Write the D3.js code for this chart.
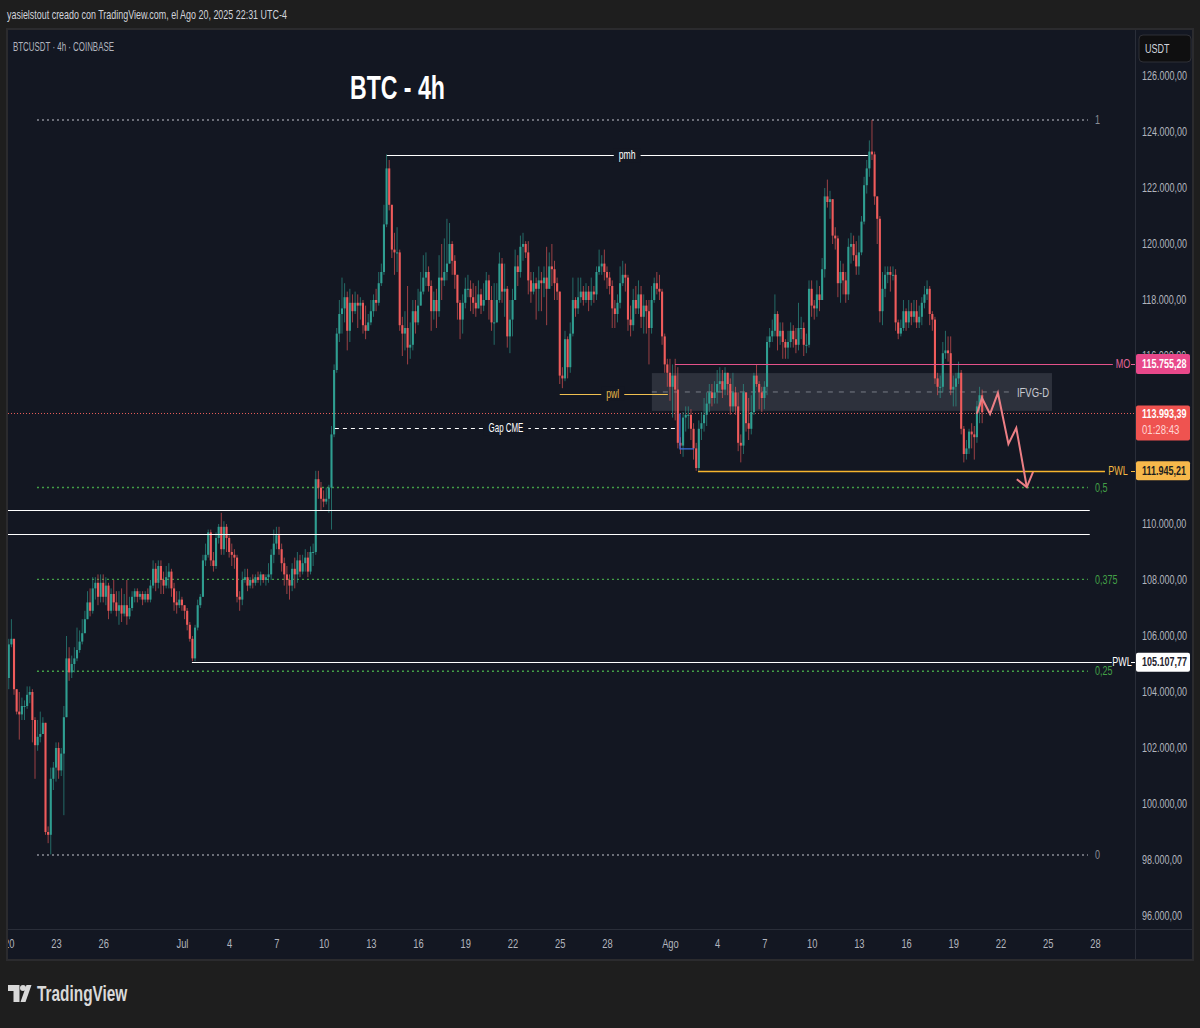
<!DOCTYPE html>
<html><head><meta charset="utf-8"><title>BTC - 4h</title>
<script src="https://cdn.jsdelivr.net/npm/d3@7"></script>
<style>
html,body{margin:0;padding:0;background:#1e1e1e;overflow:hidden}
text{font-family:"Liberation Sans",sans-serif}
</style></head><body><svg id="c" width="1200" height="1028"></svg>
<script>
// ---- Data (prices in thousands of USDT, four-hour candles) ----
const startDate = Date.UTC(2025,5,20);
const firstOpen = 104.5;
const closes = [
105.7,105.9,104.1,103.3,103.2,103.5, 103.5,103.9,104.0,103.0,102.1,102.4, 102.5,102.9,99.0,98.9,100.9,101.3,
102.0,101.2,101.8,103.1,105.2,104.7, 105.0,105.2,105.5,105.8,106.1,106.6, 107.2,106.9,107.7,107.9,107.4,107.9,
107.4,107.8,106.9,107.5,107.2,106.9, 107.1,106.8,107.1,106.7,107.0,107.4, 107.6,107.4,107.5,107.3,107.5,107.3,
107.8,108.4,107.9,108.5,108.0,107.8,108.1, 108.3,107.7,107.2,107.1,107.3,107.1, 106.9,106.4,105.9,105.2,106.3,107.1,
107.4,108.7,108.9,109.7,108.7,108.5, 109.5,109.9,109.1,109.9,109.5,109.0, 108.9,108.8,107.4,107.3,108.0,108.1,
107.8,108.0,107.9,108.1,108.0,108.2, 108.0,108.1,108.2,108.9,109.3,109.6, 109.1,108.6,108.2,108.0,107.8,108.4,
108.2,108.7,108.3,108.6,108.8,108.3, 109.0,109.0,111.6,111.3,110.9,110.8, 110.9,111.3,113.2,115.5,116.8,117.5,
117.7,118.1,116.9,117.9,117.6,117.9, 117.8,117.9,117.1,116.9,117.2,117.6, 118.0,117.9,118.6,119.0,120.7,122.7,
121.4,119.8,119.7,119.7,117.1,116.8, 117.0,116.3,116.4,117.6,117.2,117.8, 118.3,118.8,119.0,118.5,117.6,118.0,
117.6,118.8,118.7,119.0,119.3,120.0, 119.4,118.9,117.9,117.3,117.9,118.4, 118.4,118.1,117.9,117.7,118.2,117.8,
118.0,118.7,118.0,117.2,117.2,118.0, 119.3,118.3,118.4,116.7,117.3,118.0, 119.2,119.0,119.9,120.0,119.7,118.7,
118.3,118.6,118.4,118.7,118.6,118.8, 118.4,119.2,119.1,118.6,118.3,115.3, 115.2,116.6,115.6,116.8,118.0,117.7,
118.1,118.3,118.0,118.3,118.0,118.3, 118.2,119.0,119.2,119.3,119.0,118.8, 118.5,117.7,117.5,117.9,118.6,118.9,
118.8,117.3,117.1,118.0,117.7,118.2, 117.4,117.8,117.6,117.0,118.0,118.6, 118.4,118.3,116.7,115.7,115.4,114.9,
115.3,114.8,112.9,112.8,113.8,113.9, 113.9,113.4,112.7,112.0,113.4,113.6, 113.9,114.3,114.7,114.5,114.7,115.0,
115.1,114.8,115.4,115.0,114.2,114.7, 114.2,112.9,112.8,114.7,113.6,113.4, 114.0,115.3,115.0,114.7,114.5,114.9,
116.5,116.7,116.9,117.5,116.7,116.9, 116.5,116.3,116.5,116.9,116.6,116.4, 117.0,117.0,116.4,116.4,118.4,117.8,
117.7,118.2,118.0,119.1,121.7,121.5, 121.6,120.3,120.2,118.6,119.0,118.7, 118.2,119.9,120.0,119.6,119.2,119.7,
120.8,122.1,122.7,123.3,123.2,121.7, 120.9,117.6,118.4,118.9,119.0,118.9, 118.9,117.2,116.8,117.0,117.6,117.2,
117.6,117.4,117.6,117.2,117.4,117.9, 118.2,118.4,117.5,117.3,115.2,114.9, 114.9,116.1,116.2,116.1,114.8,114.9,
115.2,115.4,113.4,112.5,112.7,113.3, 113.2,113.1,114.2,114.6,113.99];
const highs = [
105.9,106.6,105.9,104.0,104.0,103.8, 103.7,104.2,104.2,104.1,103.1,103.0, 103.3,103.1,102.9,99.2,101.3,101.5,
102.2,102.2,102.0,103.5,106.0,105.6, 105.3,105.6,106.3,106.2,106.6,106.9, 107.6,107.7,108.1,108.1,108.2,108.2,
108.2,108.1,107.9,107.7,108.0,107.6, 107.6,107.7,107.5,108.0,107.4,107.6, 107.7,107.7,107.6,107.6,107.6,107.7,
108.0,108.7,108.6,108.7,108.7,108.3,108.5, 108.6,108.4,107.9,107.6,107.6,107.4, 107.1,107.0,106.5,106.0,106.4,107.3,
107.5,108.9,109.3,109.8,109.8,109.0, 109.7,110.0,110.4,110.1,110.0,109.6, 109.3,109.1,108.9,107.6,108.3,108.4,
108.4,108.1,108.2,108.2,108.3,108.3, 108.2,108.2,108.6,109.1,109.8,109.9, 109.9,109.3,108.8,108.5,108.2,108.6,
108.8,109.0,108.9,108.9,109.1,109.0, 109.2,109.3,111.9,111.9,111.5,111.2, 111.3,111.4,113.5,115.7,117.0,118.0,
118.8,118.6,118.3,118.4,118.2,118.3, 118.2,118.1,118.0,117.8,117.5,118.0, 118.2,118.4,119.0,119.3,121.4,123.2,
123.0,121.0,120.4,120.6,119.8,117.4, 117.6,118.5,117.2,118.0,118.0,118.4, 119.0,119.6,119.7,119.2,118.7,118.3,
118.4,119.6,120.0,120.2,120.9,120.75, 120.1,119.6,118.9,118.0,118.2,118.8, 118.9,118.7,118.6,118.5,118.7,118.4,
118.6,119.0,118.9,118.5,118.6,118.6, 119.7,119.5,119.3,118.5,118.0,118.4, 119.8,119.6,120.3,120.4,120.1,120.1,
119.0,119.0,118.8,119.2,119.0,119.2, 119.9,119.7,120.0,119.4,118.8,118.3, 115.6,116.9,116.7,117.2,118.8,118.1,
118.8,118.8,118.5,118.6,118.5,118.8, 118.5,119.2,119.8,119.6,119.8,119.2, 119.0,118.7,118.0,118.2,119.2,119.4,
119.3,118.9,117.8,118.4,118.5,118.7, 118.5,118.2,118.0,118.0,118.5,118.8, 119.0,118.9,118.4,116.8,115.9,115.9,
115.7,115.9,115.6,113.1,114.0,114.2, 114.2,114.1,113.6,112.9,113.7,114.0, 114.5,114.7,115.0,115.0,115.1,115.5,
115.6,115.5,115.6,115.4,115.2,115.4, 114.9,114.7,113.2,115.0,114.6,114.5, 114.6,115.4,115.7,115.1,114.9,115.1,
116.7,117.0,117.3,118.2,117.6,117.2, 117.2,116.6,116.9,117.2,117.1,117.0, 117.9,117.4,117.2,116.8,118.7,118.7,
118.0,118.7,118.5,119.5,122.0,122.3, 121.9,121.6,120.6,120.3,119.4,119.3, 119.0,120.2,120.4,120.3,120.1,120.3,
121.0,122.4,123.0,123.7,124.43,123.3, 121.7,121.0,119.0,119.2,119.2,119.2, 119.2,119.1,117.3,117.3,118.0,117.7,
118.0,117.9,118.0,118.0,117.8,118.1, 118.5,118.7,118.5,117.6,117.4,115.4, 115.3,116.5,116.9,116.7,116.7,115.3,
115.4,115.8,115.5,113.5,113.0,113.4, 113.6,113.5,114.4,114.9,114.8];
const lows = [
104.1,105.6,103.9,103.2,102.3,103.0, 103.0,103.4,103.6,102.2,100.9,101.9, 102.2,102.5,98.9,98.6,98.2,100.5,
100.8,100.9,101.0,99.6,103.1,104.4, 104.5,104.7,105.1,105.4,105.7,106.1, 106.6,106.7,106.8,107.3,107.1,107.2,
107.2,107.1,106.6,106.8,106.9,106.7, 106.4,106.5,106.7,106.4,106.6,106.9, 107.2,107.2,107.3,107.1,107.2,107.2,
107.2,107.7,107.6,107.7,107.5,107.5,107.7, 107.7,107.4,106.9,106.8,107.0,106.9, 106.6,106.2,105.8,105.1,105.1,106.2,
107.0,107.4,108.5,108.8,108.5,108.3, 108.4,109.3,108.9,108.9,109.0,108.8, 108.5,108.4,107.2,106.9,107.1,107.9,
107.6,107.7,107.7,107.8,107.9,107.8, 107.9,107.8,107.9,108.0,108.6,109.1, 108.9,108.3,107.8,107.5,107.3,107.6,
107.7,107.9,108.1,108.2,108.3,108.1, 108.2,108.5,108.9,110.9,110.5,110.6, 110.7,110.4,109.8,113.1,115.4,116.5,
116.8,117.2,116.2,116.5,117.2,117.5, 117.0,117.3,116.8,116.6,116.9,117.1, 117.4,117.6,117.8,118.5,118.9,120.6,
121.2,119.5,118.9,119.0,116.9,116.0, 116.2,115.7,115.9,116.2,116.8,117.1, 117.9,118.2,118.5,118.3,116.9,117.3,
117.0,117.4,118.0,118.5,118.7,119.3, 118.9,118.4,117.3,116.6,116.8,117.7, 118.1,117.6,117.5,117.4,117.8,117.5,
117.6,118.0,117.3,116.9,116.4,117.2, 117.9,117.9,117.4,116.3,116.1,116.7, 118.0,118.5,118.8,119.4,119.5,118.2,
117.9,118.2,117.3,117.6,117.6,118.1, 117.1,118.6,118.5,118.0,118.0,115.0, 114.85,115.1,115.2,115.4,116.7,117.4,
117.5,117.9,117.8,117.9,117.6,117.8, 117.9,118.0,118.9,118.9,118.7,118.4, 118.2,117.0,117.0,117.2,117.7,118.5,
118.3,116.9,116.7,116.9,117.5,117.5, 117.0,116.8,116.8,115.7,116.8,117.9, 118.2,118.0,116.4,115.4,114.9,114.4,
113.8,113.7,112.7,112.5,112.4,113.3, 113.4,113.0,112.3,111.9,111.9,113.0, 113.3,113.5,114.0,114.2,114.3,114.3,
114.7,114.5,114.6,114.6,113.9,114.0, 113.9,112.6,112.2,112.5,113.3,113.0, 113.2,113.9,114.9,114.1,114.0,114.1,
114.6,116.3,116.5,116.7,116.2,116.4, 115.9,115.9,115.9,116.3,116.3,116.1, 116.2,116.6,116.0,116.1,116.3,117.4,
117.3,117.4,117.6,118.0,118.8,121.3, 120.9,120.0,119.8,118.1,117.9,118.2, 117.9,118.0,119.3,119.4,118.9,118.9,
119.6,120.7,121.8,122.4,123.0,121.4, 120.0,117.2,117.1,118.1,118.6,118.3, 118.7,116.9,116.6,116.7,116.9,116.9,
117.0,117.1,117.2,117.0,117.0,117.1, 117.7,118.0,117.1,116.9,115.0,114.6, 114.5,114.7,115.9,115.8,114.6,114.2,
114.2,115.0,113.2,112.2,112.3,112.5, 112.7,112.3,112.9,113.6,113.6];

// 114 and 112 lie fully under the price tags in the reference
const priceTicks = [126,124,122,120,118,116,110,108,106,104,102,100,98,96];
const dayTicks = ["2025-06-20","2025-06-23","2025-06-26","2025-07-01","2025-07-04","2025-07-07","2025-07-10","2025-07-13","2025-07-16","2025-07-19","2025-07-22","2025-07-25","2025-07-28","2025-08-01","2025-08-04","2025-08-07","2025-08-10","2025-08-13","2025-08-16","2025-08-19","2025-08-22","2025-08-25","2025-08-28"];
const monthNames = {"2025-07-01":"Jul","2025-08-01":"Ago"};

// Fibonacci levels
const fibLevels = [0,0.25,0.375,0.5,1];
const fibLabels = ["0","0,25","0,375","0,5","1"];
const fibLow = 98.18, fibHigh = 124.43;
const fibFrom = 10.75, fibTo = 411.3;

// Horizontal annotations: candle index from/to, price
const whiteLevels = [110.5,109.64];
const whiteFrom = -0.3, whiteTo = 412;
const mo = 115.75528, pwlBig = 111.94521, pnl = 105.10777, last = 113.99339;
const pmh = 123.18, pwlSmall = 114.66, gapCme = 113.43;
const ifvgTop = 115.39, ifvgBottom = 114.04, ifvgFrom = 245.1, ifvgTo = 397.6;
const blueFrom = 255.8, blueTo = 261.1, blueTop = 113.95, blueBottom = 112.68;
const arrowIdx = [369,370.9,374,377,381,384,388];
const arrowPrice = [113.93,114.5,113.93,114.68,112.86,113.43,111.32];
const headIdx = [384.2,388,390.4];
const headPrice = [111.6,111.32,111.86];

// ---- Scales ----
const H4 = 4*3600*1000;
const tAt = i => new Date(startDate + i*H4);
const x = d3.scaleUtc().domain([new Date(Date.UTC(2025,5,23)), new Date(Date.UTC(2025,7,28))]).range([56,1095]);
const y = d3.scaleLinear().domain([96,126]).range([916,76]);
const X = i => x(tAt(i));
const loc = d3.formatLocale({decimal:",",thousands:".",grouping:[3],currency:["",""]});
const fmt = v => loc.format(",.2f")(v*1000);
// the tagged price lines sit about one pixel below the axis grid in the source picture
const TAGSHIFT = 1.2;
const Yt = p => y(p)+TAGSHIFT;
const crisp = v => Math.round(v)+.5;
// the reference text is a condensed face: squeeze real text horizontally about its x anchor
function cond(sel,f){
  sel.each(function(){
    const ax=+this.getAttribute("x")||0;
    this.setAttribute("transform",`translate(${ax} 0) scale(${f} 1) translate(${-ax} 0)`);
  });
  return sel;
}

const svg = d3.select("#c");
const PANE = {l:8,r:1135,t:30,b:929,axisR:1192,bottom:959};
const COL = {bg:"#1e1e1e",pane:"#131722",border:"#2b2b2e",grid:"#2a2e39",up:"#2f9e91",down:"#ef5b5b",txt:"#b2b5be"};

// ---- Frame ----
svg.append("rect").attr("width",1200).attr("height",1028).attr("fill",COL.bg);
svg.append("rect").attr("x",PANE.l-1).attr("y",PANE.t-1).attr("width",PANE.axisR-PANE.l+2).attr("height",PANE.bottom-PANE.t+2)
  .attr("fill",COL.pane).attr("stroke",COL.border).attr("stroke-width",2);
svg.append("line").attr("x1",PANE.r+.5).attr("x2",PANE.r+.5).attr("y1",PANE.t).attr("y2",PANE.bottom).attr("stroke",COL.grid);
svg.append("line").attr("x1",PANE.l).attr("x2",PANE.axisR).attr("y1",PANE.b+.5).attr("y2",PANE.b+.5).attr("stroke",COL.grid);

svg.append("defs").append("clipPath").attr("id","pane").append("rect")
  .attr("x",PANE.l).attr("y",PANE.t).attr("width",PANE.r-PANE.l).attr("height",PANE.b-PANE.t);
svg.append("defs").append("clipPath").attr("id","xa").append("rect")
  .attr("x",PANE.l).attr("y",PANE.b).attr("width",PANE.r-PANE.l).attr("height",PANE.bottom-PANE.b);

// ---- Axes ----
const yAxis = d3.axisRight(y).tickValues(priceTicks).tickFormat(fmt).tickSize(0).tickPadding(0);
const ya = svg.append("g").attr("transform",`translate(${PANE.r+7},0)`).call(yAxis);
ya.select(".domain").remove();
cond(ya.selectAll("text").attr("fill",COL.txt).attr("font-size",12).attr("font-family","Liberation Sans"),.75);

const xAxis = d3.axisBottom(x).tickValues(dayTicks.map(d=>new Date(d+"T00:00:00Z")))
  .tickFormat(d=>{const k=d.toISOString().slice(0,10);return monthNames[k]||d.getUTCDate();}).tickSize(0).tickPadding(0);
const xa = svg.append("g").attr("clip-path","url(#xa)").append("g").attr("transform",`translate(0,${PANE.b+10})`).call(xAxis);
xa.select(".domain").remove();
cond(xa.selectAll("text").attr("fill",COL.txt).attr("font-size",12).attr("font-family","Liberation Sans"),.78);

// ---- Chart layer ----
const g = svg.append("g").attr("clip-path","url(#pane)");

// IFVG zone
g.append("rect").attr("x",X(ifvgFrom)).attr("width",X(ifvgTo)-X(ifvgFrom)).attr("y",y(ifvgTop)).attr("height",y(ifvgBottom)-y(ifvgTop))
  .attr("fill","#787b86").attr("fill-opacity",.26);
g.append("line").attr("x1",X(ifvgFrom)).attr("x2",X(ifvgTo)-38).attr("y1",y((ifvgTop+ifvgBottom)/2)).attr("y2",y((ifvgTop+ifvgBottom)/2))
  .attr("stroke","#787b86").attr("stroke-dasharray","5 6");

// Current price line
g.append("line").attr("x1",PANE.l).attr("x2",PANE.r).attr("y1",crisp(Yt(last))).attr("y2",crisp(Yt(last)))
  .attr("stroke","#f0605c").attr("stroke-opacity",.95).attr("stroke-dasharray","1 2");

// Fib levels
g.selectAll(".fib").data(fibLevels).join("line").attr("x1",X(fibFrom)).attr("x2",X(fibTo))
  .attr("y1",d=>y(fibLow+(fibHigh-fibLow)*d)).attr("y2",d=>y(fibLow+(fibHigh-fibLow)*d))
  .attr("stroke",d=>(d===0||d===1)?"#8a8d96":"#43a047").attr("stroke-width",1.4).attr("stroke-dasharray","2 3");
cond(g.selectAll(".fibl").data(fibLevels).join("text").attr("x",X(fibTo)+7)
  .attr("y",d=>y(fibLow+(fibHigh-fibLow)*d)).attr("dy","0.35em")
  .attr("fill",d=>(d===0||d===1)?"#8a8d96":"#43a047").attr("font-size",12)
  .text((d,i)=>fibLabels[i]),.75);

// Candles
const candles = closes.map((c,i)=>({i,c,o:i?closes[i-1]:firstOpen,h:highs[i],l:lows[i]}));
const cg = g.append("g");
cg.selectAll(".w").data(candles).join("line").attr("x1",d=>X(d.i)).attr("x2",d=>X(d.i))
  .attr("y1",d=>y(Math.max(d.h,d.o,d.c))).attr("y2",d=>y(Math.min(d.l,d.o,d.c)))
  .attr("stroke",d=>d.c>=d.o?COL.up:COL.down).attr("stroke-opacity",.62).attr("stroke-width",1);
cg.selectAll(".b").data(candles).join("rect").attr("x",d=>X(d.i)-1.05).attr("width",2.1)
  .attr("y",d=>y(Math.max(d.o,d.c))).attr("height",d=>Math.max(1,Math.abs(y(d.o)-y(d.c))))
  .attr("fill",d=>d.c>=d.o?COL.up:COL.down);

// Horizontal lines
function hline(a,b,py,col,w,dash){
  const yy=crisp(py);
  const l=g.append("line").attr("x1",X(a)).attr("x2",X(b)).attr("y1",yy).attr("y2",yy).attr("stroke",col).attr("stroke-width",w||1);
  if(dash) l.attr("stroke-dasharray",dash);
}
function midLabel(cx,py,t,col,f){
  const tx=g.append("text").attr("x",cx).attr("y",py).attr("dy","0.35em").attr("text-anchor","middle").attr("fill",col).attr("font-size",12).text(t);
  const bb=tx.node().getBBox();
  cond(tx,f);
  const w=bb.width*f;
  g.append("rect").attr("x",cx-w/2-5).attr("y",bb.y).attr("width",w+10).attr("height",bb.height).attr("fill",COL.pane);
  tx.raise();
}
whiteLevels.forEach(p=>hline(whiteFrom,whiteTo,y(p),"#ffffff",1));
hline(144.1,327.4,y(pmh),"#ffffff",1);      midLabel(X(235.7),y(pmh),"pmh","#ffffff",.72);
hline(210,251.2,y(pwlSmall),"#f0c050",1.2);   midLabel(X(230.2),y(pwlSmall),"pwl","#e9b949",.72);
hline(124.3,255,y(gapCme),"#ffffff",1,"4 4"); midLabel(X(189.5),y(gapCme),"Gap CME","#ffffff",.66);
hline(253.9,420.8,Yt(mo),"#e4528a",1.2);
hline(262.7,417.8,Yt(pwlBig),"#f7b52e",1.3);
hline(69.8,420.4,Yt(pnl),"#ffffff",1);

// Blue bracket
g.append("path").attr("d",d3.line()([[X(blueFrom),y(blueTop)],[X(blueFrom),y(blueBottom)],[X(blueTo),y(blueBottom)]]))
  .attr("fill","none").attr("stroke","#3d6fe0").attr("stroke-width",1.2);

// Projection arrow
const ln=d3.line();
g.append("path").attr("d",ln(arrowIdx.map((a,i)=>[X(a),y(arrowPrice[i])]))).attr("fill","none").attr("stroke","#ec7f85").attr("stroke-width",2);
g.append("path").attr("d",ln(headIdx.map((a,i)=>[X(a),y(headPrice[i])]))).attr("fill","none").attr("stroke","#ec7f85").attr("stroke-width",2);

// IFVG label
cond(g.append("text").attr("x",X(ifvgTo)-19).attr("y",y((ifvgTop+ifvgBottom)/2)).attr("dy","0.35em").attr("text-anchor","middle")
  .attr("fill","#c8cad0").attr("font-size",13).text("IFVG-D"),.73);

// ---- Price tags ----
function tag(p,h,col,txtCol,t,extra){
  const py=Yt(p);
  svg.append("rect").attr("x",PANE.r+1).attr("y",extra?py-8:py-h/2).attr("width",54).attr("height",h).attr("rx",2).attr("fill",col);
  cond(svg.append("text").attr("x",PANE.r+7).attr("y",py).attr("dy","0.35em").attr("fill",txtCol).attr("font-size",12).attr("font-weight","bold").text(t),.75);
  if(extra) cond(svg.append("text").attr("x",PANE.r+7).attr("y",py+16).attr("dy","0.35em").attr("fill","#ffd5d5").attr("font-size",12).text(extra),.8);
}
tag(mo,20,"#e8488a","#ffffff",fmt(mo));
tag(last,35,"#ef5350","#ffffff",fmt(last),"01:28:43");
tag(pwlBig,19,"#f7b84b","#1e1e1e",fmt(pwlBig));
tag(pnl,19,"#ffffff","#1e222d",fmt(pnl));
function sideLabel(xp,p,t,col){
  cond(svg.append("text").attr("x",xp).attr("y",Yt(p)).attr("dy","0.35em").attr("fill",col).attr("font-size",12).attr("text-anchor","middle").text(t),.75);
  svg.append("line").attr("x1",PANE.r-4).attr("x2",PANE.r).attr("y1",crisp(Yt(p))).attr("y2",crisp(Yt(p))).attr("stroke",col);
}
sideLabel(1123,mo,"MO","#e4669a");
sideLabel(1118,pwlBig,"PWL","#f5b942");
sideLabel(1122,pnl,"PWL","#ffffff");

// USDT box
svg.append("rect").attr("x",1139).attr("y",35).attr("width",52).attr("height",27).attr("rx",4).attr("fill","#0f0f10").attr("stroke","#2f3036");
cond(svg.append("text").attr("x",1145).attr("y",49).attr("dy","0.35em").attr("fill","#d1d4dc").attr("font-size",12).text("USDT"),.75);

// ---- Texts ----
cond(svg.append("text").attr("x",7).attr("y",18).attr("dy","0.05em").attr("fill","#d1d4dc").attr("font-size",12.5).text("yasielstout creado con TradingView.com, el Ago 20, 2025 22:31 UTC-4"),.715);
cond(svg.append("text").attr("x",13).attr("y",47).attr("dy","0.35em").attr("fill",COL.txt).attr("font-size",12).text("BTCUSDT · 4h · COINBASE"),.66);
cond(svg.append("text").attr("x",350).attr("y",99).attr("fill","#ffffff").attr("font-size",33).attr("font-weight","bold").text("BTC - 4h"),.7);

// TradingView logo
const logo=svg.append("g").attr("fill","#d9d9d9");
logo.append("path").attr("d","M8 985H19.5V1002H13.5V991H8Z");
logo.append("circle").attr("cx",23).attr("cy",988).attr("r",3);
logo.append("path").attr("d","M31.5 985L25.5 1002H20.5L26.5 985Z");
cond(svg.append("text").attr("x",37).attr("y",1001).attr("fill","#d9d9d9").attr("font-size",22).attr("font-weight","bold").text("TradingView"),.7);
</script></body></html>
